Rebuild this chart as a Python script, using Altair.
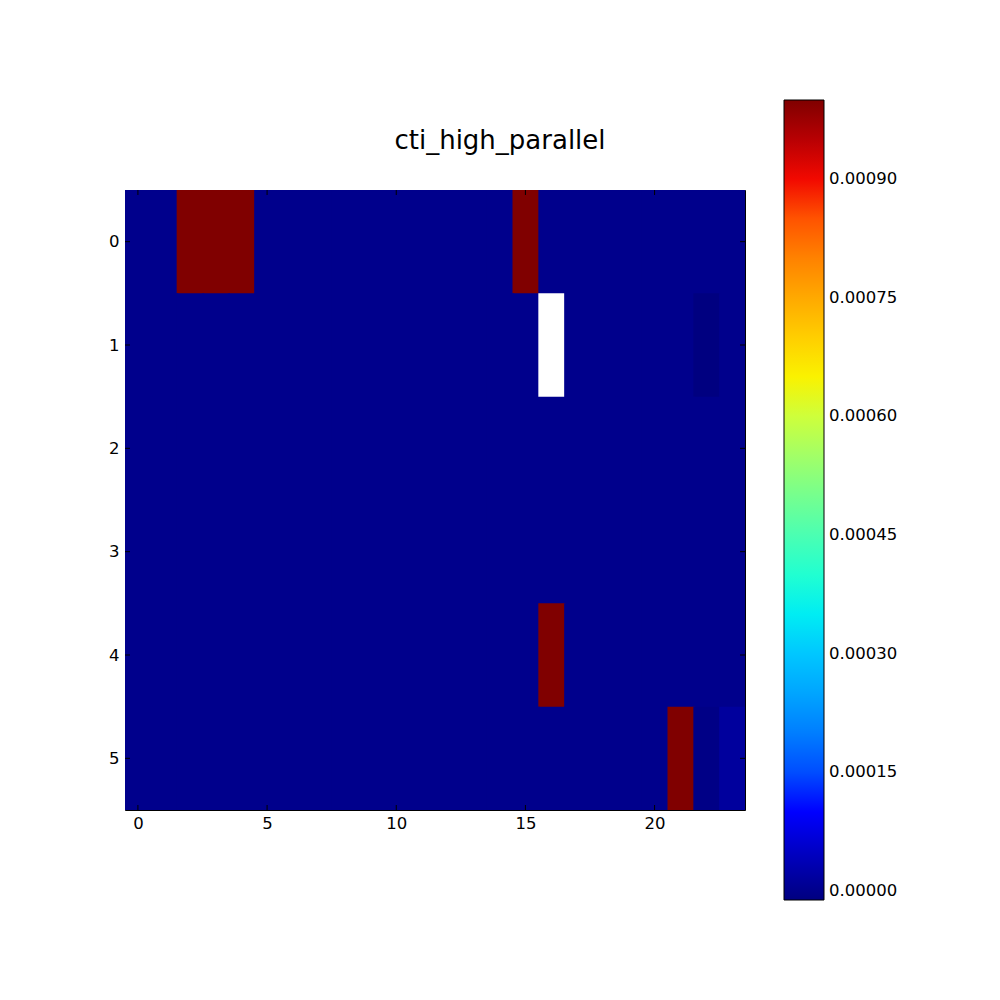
import altair as alt
import pandas as pd

# ---- data ----
H = 0.001          # saturated (dark red) cells
N = float("nan")   # missing cell (white)
row0 = [0, 0, H, H, H, 0, 0, 0, 0, 0, 0, 0, 0, 0, 0, H, 0, 0, 0, 0, 0, 0, 0, 0]
row1 = [0, 0, 0, 0, 0, 0, 0, 0, 0, 0, 0, 0, 0, 0, 0, 0, N, 0, 0, 0, 0, 0, -0.0000114, 0]
row2 = [0] * 24
row3 = [0] * 24
row4 = [0, 0, 0, 0, 0, 0, 0, 0, 0, 0, 0, 0, 0, 0, 0, 0, H, 0, 0, 0, 0, 0, 0, 0]
row5 = [0, 0, 0, 0, 0, 0, 0, 0, 0, 0, 0, 0, 0, 0, 0, 0, 0, 0, 0, 0, 0, H, -0.000006, 0.000015]
grid = [row0, row1, row2, row3, row4, row5]

VMIN = -0.0000114
VMAX = 0.001
x_ticks = [0, 5, 10, 15, 20]
y_ticks = [0, 1, 2, 3, 4, 5]
cbar_ticks = [0.0, 0.00015, 0.0003, 0.00045, 0.0006, 0.00075, 0.0009]
title_text = "cti_high_parallel"

records = []
for r, vals in enumerate(grid):
    for c, v in enumerate(vals):
        records.append({"row": r, "col": c, "value": v})
df_all = pd.DataFrame(records)
df = df_all[df_all["value"].notna()]
df_nan = df_all[df_all["value"].isna()][["row", "col"]]

# ---- jet colormap as piecewise-linear stops ----
def seg(pts, t):
    for (t0, v0), (t1, v1) in zip(pts[:-1], pts[1:]):
        if t0 <= t <= t1:
            return v0 if t1 == t0 else v0 + (v1 - v0) * (t - t0) / (t1 - t0)
    return pts[-1][1]

R = [(0, 0), (0.35, 0), (0.66, 1), (0.89, 1), (1, 0.5)]
G = [(0, 0), (0.125, 0), (0.375, 1), (0.64, 1), (0.91, 0), (1, 0)]
B = [(0, 0.5), (0.11, 1), (0.34, 1), (0.65, 0), (1, 0)]


def jet_hex(t):
    return "#%02x%02x%02x" % tuple(int(round(seg(P, t) * 255)) for P in (R, G, B))


stops = [0, 0.11, 0.125, 0.34, 0.35, 0.375, 0.64, 0.65, 0.66, 0.89, 0.91, 1]
dom = [VMIN + t * (VMAX - VMIN) for t in stops]
rng = [jet_hex(t) for t in stops]
zero_color = jet_hex((0 - VMIN) / (VMAX - VMIN))

font = "DejaVu Sans"
xscale = alt.Scale(domain=[-0.5, 23.5], nice=False, zero=False)
yscale = alt.Scale(domain=[-0.5, 5.5], nice=False, zero=False, reverse=True)
xaxis = alt.Axis(values=x_ticks, ticks=False, domain=False, grid=False, title=None,
                 labelFont=font, labelFontSize=16.5, labelColor="black",
                 labelPadding=5, labelFlush=False)
yaxis = alt.Axis(values=y_ticks, ticks=False, domain=False, grid=False, title=None,
                 labelFont=font, labelFontSize=16.5, labelColor="black",
                 labelPadding=6, labelFlush=False)
cscale = alt.Scale(domain=dom, range=rng, clamp=True)

# cells are drawn a little wider than 1 so that the next cell overlaps them (no seams)
heat = alt.Chart(df).transform_calculate(
    x0="datum.col - 0.5", x1="datum.col + 0.56",
    y0="datum.row - 0.5", y1="datum.row + 0.52",
).mark_rect(strokeWidth=0, clip=True).encode(
    x=alt.X("x0:Q", scale=xscale, axis=xaxis),
    x2="x1:Q",
    y=alt.Y("y0:Q", scale=yscale, axis=yaxis),
    y2="y1:Q",
    color=alt.Color("value:Q", scale=cscale,
                    legend=alt.Legend(title=None, orient="none", legendX=659, legendY=-90,
                                      direction="vertical", gradientLength=800,
                                      gradientThickness=40, values=cbar_ticks, format=".5f",
                                      labelFont=font, labelFontSize=16.5, labelColor="black",
                                      labelOffset=5, labelOverlap=False, labelLimit=200,
                                      gradientStrokeColor="black", gradientStrokeWidth=1,
                                      padding=0)),
)

missing = alt.Chart(df_nan).transform_calculate(
    x0="datum.col - 0.5", x1="datum.col + 0.5",
    y0="datum.row - 0.5", y1="datum.row + 0.5",
).mark_rect(color="white", strokeWidth=0).encode(
    x=alt.X("x0:Q", scale=xscale, axis=xaxis),
    x2="x1:Q",
    y=alt.Y("y0:Q", scale=yscale, axis=yaxis),
    y2="y1:Q",
)

xt = pd.DataFrame({"t": x_ticks})
yt = pd.DataFrame({"t": y_ticks})
tick_bottom = alt.Chart(xt).mark_rule(color="black").encode(
    x=alt.X("t:Q", scale=xscale, axis=xaxis), y=alt.value(620), y2=alt.value(615))
tick_top = alt.Chart(xt).mark_rule(color="black").encode(
    x=alt.X("t:Q", scale=xscale, axis=xaxis), y=alt.value(0), y2=alt.value(5))
tick_left = alt.Chart(yt).mark_rule(color="black").encode(
    y=alt.Y("t:Q", scale=yscale, axis=yaxis), x=alt.value(0), x2=alt.value(5))
tick_right = alt.Chart(yt).mark_rule(color="black").encode(
    y=alt.Y("t:Q", scale=yscale, axis=yaxis), x=alt.value(615), x2=alt.value(620))

chart = alt.layer(heat, missing, tick_bottom, tick_top, tick_left, tick_right).properties(
    width=620, height=620,
    title=alt.TitleParams(title_text, font=font, fontSize=26, fontWeight="normal",
                          color="black", anchor="middle", dx=65, dy=84, offset=30),
    autosize=alt.AutoSizeParams(type="none"),
    padding={"left": 117, "top": 182, "right": 240, "bottom": 170},
    background="white",
).configure_view(stroke="black", strokeWidth=1, fill=zero_color)

chart.save("out.html", embed_options={"renderer": "svg", "actions": False})
